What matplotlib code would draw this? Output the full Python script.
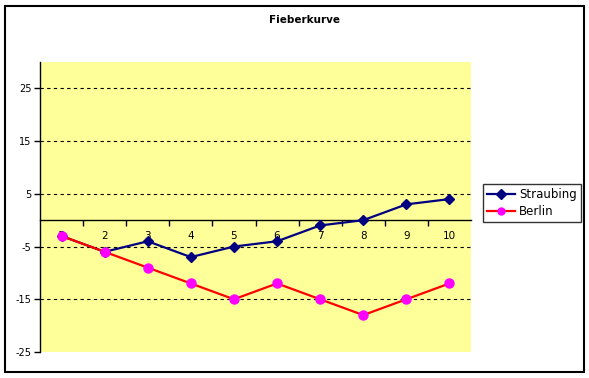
import matplotlib.pyplot as plt
from matplotlib.patches import Rectangle

# Fieberkurve - zwei Staedte
tage = [1, 2, 3, 4, 5, 6, 7, 8, 9, 10]
straubing = [-3, -6, -4, -7, -5, -4, -1, 0, 3, 4]
berlin = [-3, -6, -9, -12, -15, -12, -15, -18, -15, -12]
y_ticks = [-25, -15, -5, 5, 15, 25]

fig = plt.figure(figsize=(5.89, 3.78), dpi=100)
ax = fig.add_axes([40 / 589, 1 - 352 / 378, 431 / 589, 290 / 378])
ax.set_facecolor('#FFFF99')

# rahmen ums ganze diagramm
fig.patches.append(Rectangle((5 / 589, 6 / 378), 579 / 589, 366 / 378,
                             transform=fig.transFigure, fill=False,
                             edgecolor='black', linewidth=1.5))

ax.set_xlim(0.5, 10.5)
ax.set_ylim(-25, 30)

for y in y_ticks[1:]:
    ax.axhline(y, color='black', linestyle=(0, (3, 3)), linewidth=0.8, zorder=1)

ax.plot(tage, straubing, color='#000080', marker='D', markersize=5.5,
        linewidth=1.6, label='Straubing', zorder=3)
ax.plot(tage, berlin, color='#FF0000', marker='o', markersize=6.5,
        markerfacecolor='#FF00FF', markeredgecolor='#FF00FF',
        linewidth=1.6, label='Berlin', zorder=4)

ax.spines['top'].set_visible(False)
ax.spines['right'].set_visible(False)
ax.spines['bottom'].set_position(('data', 0))
ax.spines['left'].set_linewidth(1)
ax.spines['bottom'].set_linewidth(1)

ax.set_yticks(y_ticks)
ax.set_yticklabels([str(v) for v in y_ticks], fontsize=7)
ax.tick_params(axis='y', length=4, width=1, pad=2)

# striche zwischen den kategorien, beschriftung in der mitte
ax.set_xticks([t + 0.5 for t in tage[:-1]])
ax.set_xticklabels([])
ax.tick_params(axis='x', which='major', direction='out', length=4, width=1)
ax.set_xticks(tage, minor=True)
ax.set_xticklabels([str(t) for t in tage], minor=True, fontsize=7.5)
ax.tick_params(axis='x', which='minor', length=0, pad=8)

fig.text(305 / 589, 1 - 20 / 378, 'Fieberkurve', fontsize=7.5,
         fontweight='bold', ha='center', va='center')

leg = ax.legend(loc='center left', bbox_to_anchor=(483 / 589, 1 - 203 / 378),
                bbox_transform=fig.transFigure, fontsize=8.5, frameon=True,
                fancybox=False, edgecolor='black', handlelength=2.4,
                borderpad=0.35, labelspacing=0.35, handletextpad=0.3,
                borderaxespad=0)
leg.get_frame().set_linewidth(1)
for h in leg.legend_handles:
    h.set_markersize(5)

fig.savefig('out.png', dpi=100)
